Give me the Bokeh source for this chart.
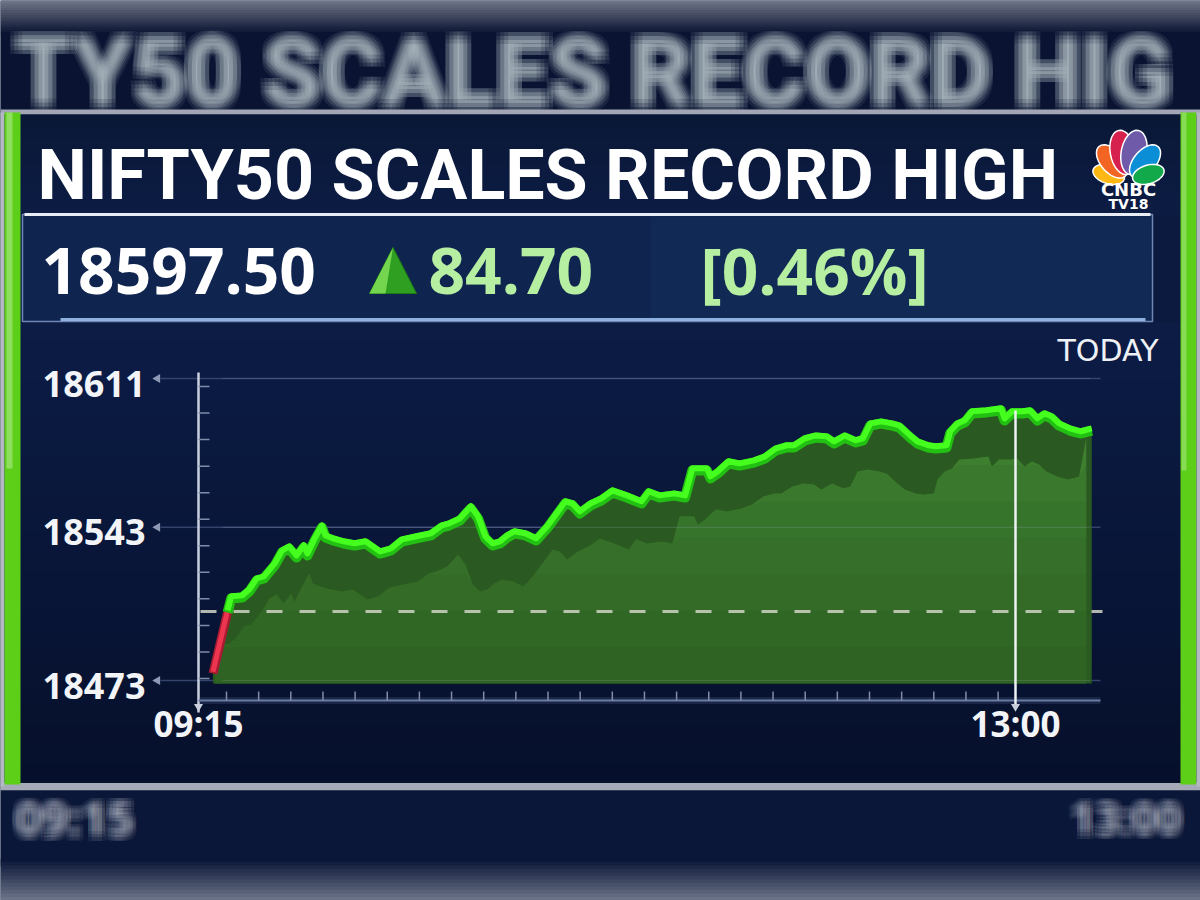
import numpy as np
from bokeh.plotting import figure
from bokeh.models import Range1d
from bokeh.core.properties import value
from bokeh.embed import file_html
from bokeh.resources import INLINE

# ------------------------------------------------------------------ data
headline = "NIFTY50 SCALES RECORD HIGH"
backdrop_headline = "TY50 SCALES RECORD HIG"   # blurred, cropped copy behind the panel
last_price = "18597.50"
abs_change = "84.70"
pct_change = "[0.46%]"
period_label = "TODAY"
y_ticks = [18473, 18543, 18611]
y_tick_labels = ["18473", "18543", "18611"]
x_ticks = [0, 225]                      # minutes since 09:15
x_tick_labels = ["09:15", "13:00"]
prev_close = 18504.5

minutes = [4, 8, 9, 12, 14, 16, 18, 21, 23, 25,
           27, 29, 30, 32, 34, 35, 37, 40, 43, 46,
           50, 53, 56, 60, 64, 67, 69, 72, 74, 75,
           77, 79, 81, 83, 85, 87, 90, 93, 96, 98,
           101, 103, 105, 108, 111, 114, 118, 122, 124, 127,
           131, 134, 136, 140, 141, 143, 146, 149, 153, 156,
           159, 162, 164, 167, 170, 173, 175, 178, 181, 183,
           185, 188, 191, 193, 196, 198, 201, 203, 206, 207,
           209, 211, 213, 217, 221, 222, 224, 227, 229, 231,
           233, 235, 237, 240, 242, 243, 246]
levels = [18476.2, 18504.1, 18510.5, 18510.9, 18513.7, 18518.7, 18519.6, 18525.6, 18531.5, 18533.3,
          18529.2, 18533.8, 18530.1, 18537.0, 18542.9, 18538.3, 18537.0, 18535.6, 18534.7, 18535.6,
          18531.0, 18532.4, 18536.5, 18537.9, 18539.3, 18542.9, 18543.8, 18546.1, 18549.8, 18551.6,
          18547.0, 18537.9, 18534.7, 18535.6, 18538.3, 18540.2, 18539.3, 18537.0, 18542.5, 18547.0,
          18553.9, 18553.0, 18549.3, 18553.0, 18555.3, 18558.9, 18556.6, 18553.9, 18558.5, 18556.6,
          18557.5, 18556.6, 18569.0, 18569.0, 18565.3, 18567.6, 18572.2, 18571.2, 18572.6, 18574.4,
          18578.1, 18579.5, 18579.5, 18582.7, 18584.0, 18583.6, 18581.3, 18584.0, 18581.8, 18582.7,
          18589.5, 18590.4, 18589.5, 18588.6, 18584.0, 18581.3, 18579.5, 18579.0, 18579.5, 18585.9,
          18589.5, 18590.9, 18595.0, 18595.5, 18596.4, 18591.8, 18595.0, 18595.0, 18595.5, 18591.8,
          18594.1, 18592.7, 18589.5, 18587.2, 18586.3, 18585.9, 18587.2]

# ------------------------------------------------------------------ layout
W, H = 1200, 900
COND = value("Roboto")
SANS = value("Open Sans")
WIDE = value("DejaVu Sans")

# chart placement (page pixels)
PX_OPEN, PX_PER_MIN = 198.0, 817.0 / 225.0
PY_LOW, PX_PER_PT = 680.0, 302.0 / 138.0

p = figure(width=W, height=H, x_range=Range1d(0, W), y_range=Range1d(H, 0),
           output_backend="svg", toolbar_location=None, x_axis_type=None,
           y_axis_type=None, min_border=0, outline_line_color=None,
           background_fill_color="#0b1a3e", border_fill_color="#0b1a3e")
p.extra_x_ranges = {"t": Range1d((0 - PX_OPEN) / PX_PER_MIN, (W - PX_OPEN) / PX_PER_MIN)}
p.extra_y_ranges = {"v": Range1d(y_ticks[0] - (H - PY_LOW) / PX_PER_PT,
                                 y_ticks[0] + PY_LOW / PX_PER_PT)}


def hexmix(c0, c1, f):
    a = [int(c0[i:i + 2], 16) for i in (1, 3, 5)]
    b = [int(c1[i:i + 2], 16) for i in (1, 3, 5)]
    return "#%02x%02x%02x" % tuple(int(round(a[i] + (b[i] - a[i]) * f)) for i in range(3))


def rect(x0, x1, y0, y1, color, alpha=1.0):
    p.quad(left=x0, right=x1, top=y0, bottom=y1, fill_color=color,
           fill_alpha=alpha, line_color=None)


def vgrad(x0, x1, y0, y1, c0, c1, n=16):
    ys = np.linspace(y0, y1, n + 1)
    for i in range(n):
        rect(x0, x1, ys[i], ys[i + 1] + 0.6, hexmix(c0, c1, i / (n - 1)))


def txt(x, y, s, size, color, font, style="normal", align="left", alpha=1.0):
    # y is the vertical centre of the capitals
    p.text(x=[x], y=[y], text=[s], text_font=font, text_font_size=f"{size}px",
           text_font_style=style, text_color=color, text_alpha=alpha,
           text_align=align, text_baseline="middle")


def blur_txt(x, y, s, size, font, style="normal", align="left", spread=6):
    offs = np.linspace(-spread, spread, 4)
    xs, ys = [], []
    for dx in offs:
        for dy in offs:
            xs.append(x + dx)
            ys.append(y + dy)
    p.text(x=xs, y=ys, text=[s] * len(xs), text_font=font,
           text_font_size=f"{size}px", text_font_style=style,
           text_color="#e9ecf3", text_alpha=0.075, text_align=align,
           text_baseline="middle")


# ------------------------------------------------------------------ backdrop bands
vgrad(0, W, 0, 34, "#6e7385", "#0a1432", 14)
rect(0, W, 34, 112, "#0a1432")
blur_txt(14, 72, backdrop_headline, 94, COND, "bold", spread=6)
rect(0, W, 109, 114, "#a3a7b5")

# bottom band
rect(0, W, 782, 790, "#a6aab7")
rect(0, W, 790, 866, "#0b1738")
blur_txt(74, 817, x_tick_labels[0], 46, SANS, "bold", align="center", spread=5)
blur_txt(1070, 817, x_tick_labels[1], 43, SANS, "bold", spread=5)
vgrad(0, W, 858, H, "#0b1738", "#6a7287", 12)

# panel regions
vgrad(19, 1181, 114, 214, "#0a1838", "#0c1c42", 8)
vgrad(19, 1181, 322, 782, "#0c1c45", "#06102c", 24)

# quote box
p.quad(left=22, right=1152, top=214, bottom=321, fill_color="#0f2550",
       line_color="#6f86b6", line_width=1.5)
rect(650, 1150, 216, 319, "#15305e", 0.35)
p.line(x=[24, 1150], y=[214, 214], line_color="#e8edf5", line_width=3)
p.line(x=[60, 1145], y=[319, 319], line_color="#9cc0ee", line_width=3, line_alpha=0.9)

# side bars
rect(0, 4, 112, 786, "#b4b8c2")
rect(4, 20, 112, 784, "#5dcf19")
rect(6, 12, 112, 468, "#a4e57a", 0.7)
rect(1180, 1196, 112, 784, "#5dcf19")
rect(1181, 1186, 112, 470, "#a4e57a", 0.6)
rect(1196, W, 112, 786, "#b4b8c2")

# ------------------------------------------------------------------ header texts
txt(37, 174, headline, 70, "#ffffff", COND, "bold")

# CNBC peacock
base = np.array([1128.0, 180.0])
angs = np.deg2rad([163, 131, 101, 79, 49, 17])
lens = [37, 45, 51, 51, 45, 37]
cols = ["#fdb813", "#f26522", "#d6204e", "#6e5aa8", "#0a8fd6", "#12a94b"]
tt = np.linspace(0, 2 * np.pi, 40)
fx, fy = [], []
for a, L in zip(angs, lens):
    d = np.array([np.cos(a), -np.sin(a)])
    n = np.array([np.sin(a), np.cos(a)])
    u = 0.56 * L + 0.44 * L * np.cos(tt)
    w = 0.25 * L * np.sin(tt)
    fx.append(list(base[0] + u * d[0] + w * n[0]))
    fy.append(list(base[1] + u * d[1] + w * n[1]))
p.patches(xs=fx, ys=fy, fill_color=cols, line_color="#ffffff", line_width=1.5)
txt(1128, 189, "CNBC", 18, "#ffffff", WIDE, "bold", align="center")
txt(1128, 203, "TV18", 14, "#ffffff", WIDE, "bold", align="center")

# quote line
txt(41, 270, last_price, 64, "#ffffff", SANS, "bold")
p.patch(x=[369, 416, 392.5], y=[293, 293, 247], fill_color="#2f9f22", line_color="#1d7a14")
p.patch(x=[369, 385, 392.5], y=[293, 293, 247], fill_color="#74d64e", line_color=None)
txt(428, 270, abs_change, 64, "#b6efa2", SANS, "bold")
txt(700, 270, pct_change, 64, "#b6efa2", SANS, "bold")

txt(1158, 350, period_label, 30, "#eef1f6", WIDE, align="right")

# ------------------------------------------------------------------ chart
m = np.array(minutes, dtype=float)
v = np.array(levels)
floor = y_ticks[0] - 1.4

# horizontal grid + tick labels + arrows
p.segment(x0=160, x1=1100, y0=y_ticks, y1=y_ticks, y_range_name="v",
          line_color="#33436b", line_width=1.5)
p.scatter(x=[157] * 3, y=y_ticks, y_range_name="v", marker="triangle",
          angle=np.pi / 2, size=9, fill_color="#8d99b5", line_color=None)
p.text(x=[145] * 3, y=y_ticks, text=y_tick_labels, y_range_name="v",
       text_font=SANS, text_font_size="36px", text_font_style="bold",
       text_color="#f2f4f8", text_align="right", text_baseline="middle", y_offset=5)

# axis furniture
p.line(x=[0, 0], y=[372, 712], x_range_name="t", line_color="#c9d0de", line_width=2.5)
ymin = np.linspace(386, 678, 12)
p.segment(x0=198, x1=209, y0=ymin, y1=ymin, line_color="#7f8bab", line_width=1.5)
p.line(x=[198, 1100], y=[700, 700], line_color="#8a9cc8", line_width=7, line_alpha=0.15)
p.line(x=[198, 1100], y=[700, 700], line_color="#6a7ba6", line_width=2)
xmin = np.linspace(226, 997.6, 25)
p.segment(x0=xmin, x1=xmin, y0=691, y1=700, line_color="#7f8bab", line_width=1.5)

# 3-D area: extrusion (dark) then front face (light)
p.varea(x=m, y1=floor, y2=v, x_range_name="t", y_range_name="v",
        fill_color="#2a5a21")
bm = np.concatenate([m[1:] - 3.5, [m[-1] - 1.5]])
bv = np.concatenate([np.maximum(v[1:] - 21.0, floor), [v[-1] - 3.0]])
p.varea(x=bm, y1=floor, y2=bv, x_range_name="t", y_range_name="v",
        fill_color="#3d7e2f")
for k in range(6):
    top = np.minimum(bv, floor + 100.0 * (6 - k) / 6)
    p.varea(x=bm, y1=floor, y2=top, x_range_name="t", y_range_name="v",
            fill_color="#000000", fill_alpha=0.035)

# grid overlay inside fill
p.segment(x0=222, x1=1090, y0=y_ticks, y1=y_ticks, y_range_name="v",
          line_color="#9fb0d0", line_width=1.2, line_alpha=0.18)

# previous close
p.line(x=[200, 1102], y=[prev_close, prev_close], y_range_name="v",
       line_color="#cfd3c4", line_width=3, line_alpha=0.85, line_dash="16 17")

# price ribbon
p.line(x=m[:2], y=v[:2], x_range_name="t", y_range_name="v",
       line_color="#a81c33", line_width=9, line_join="round")
p.line(x=m[:2], y=v[:2] + 0.8, x_range_name="t", y_range_name="v",
       line_color="#ee3550", line_width=5, line_join="round")
p.line(x=m[1:], y=v[1:], x_range_name="t", y_range_name="v",
       line_color="#22c012", line_width=10, line_join="round")
p.line(x=m[1:], y=v[1:] + 1.0, x_range_name="t", y_range_name="v",
       line_color="#45ff1e", line_width=6, line_join="round")

# 13:00 marker and x labels
p.line(x=[x_ticks[1]] * 2, y=[410, 705], x_range_name="t",
       line_color="#eef2f4", line_width=2.5)
p.scatter(x=x_ticks, y=[706, 706], x_range_name="t", marker="inverted_triangle",
          size=9, fill_color="#c8cedc", line_color=None)
p.text(x=x_ticks, y=[723, 723], x_range_name="t", text=x_tick_labels,
       text_font=SANS, text_font_size="35px", text_font_style="bold",
       text_color="#f2f4f8", text_align="center", text_baseline="middle")

open("out.html", "w").write(file_html(p, INLINE))
